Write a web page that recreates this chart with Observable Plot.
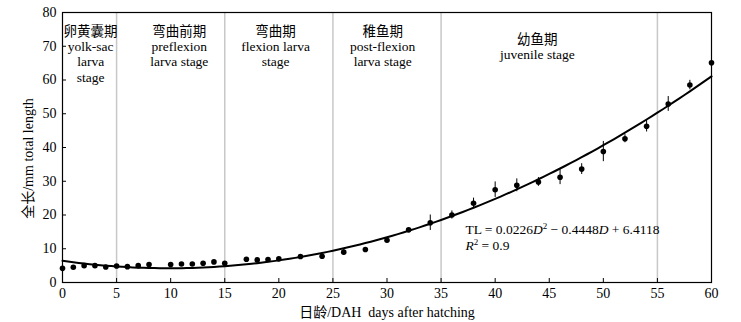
<!DOCTYPE html>
<html><head><meta charset="utf-8">
<script src="https://cdn.jsdelivr.net/npm/d3@7"></script>
<script src="https://cdn.jsdelivr.net/npm/@observablehq/plot@0.6"></script>
<style>
body{margin:0;background:#fff;}
#chart svg{display:block;}
</style>
</head><body><div id="chart"></div>
<script>
// ---- data ----
const days    = [0,1,2,3,4,5,6,7,8,10,11,12,13,14,15,17,18,19,20,22,24,26,28,30,32,34,36,38,40,42,44,46,48,50,52,54,56,58,60];
const lengths = [4.2,4.5,5.0,5.0,4.6,4.9,4.7,5.0,5.3,5.3,5.5,5.5,5.7,6.1,5.7,6.9,6.7,6.8,7.0,7.7,7.8,9.0,9.8,12.5,15.6,17.7,20.0,23.5,27.5,28.8,29.8,31.2,33.6,38.8,42.6,46.3,52.9,58.5,65.1];
const errors  = [0.3,0.3,0.3,0.3,0.3,0.3,0.3,0.3,0.3,0.3,0.3,0.3,0.3,0.3,0.3,0.3,0.3,0.3,0.3,0.3,0.3,1.0,0.4,0.75,0.4,2.3,1.2,1.5,2.3,1.9,1.3,2.2,1.6,3.0,1.2,1.7,2.2,1.4,2.0];
const stageBounds = [5,15,25,35,55];
const stageCenters = [2.6,10.8,19.7,29.6];
const stageLabels = ["卵黄囊期\nyolk-sac\nlarva\nstage","弯曲前期\npreflexion\nlarva stage","弯曲期\nflexion larva\nstage","稚鱼期\npost-flexion\nlarva stage"];
const juvenileCenter = [43.9];
const juvenileLabel = ["幼鱼期\njuvenile stage"];
const coef = [0.0226, -0.4448, 6.4118]; // TL = aD^2 + bD + c
const xTicks = [0,5,10,15,20,25,30,35,40,45,50,55,60];
const yTicks = [0,10,20,30,40,50,60,70,80];
const xLabel = "日龄/DAH\u00a0\u00a0days after hatching";
const yLabel = "全长/mm total length";

const points = days.map((d,i)=>({day:d, tl:lengths[i], err:errors[i]}));
const curveDays = d3.range(0, 60.001, 0.5);
const curve = curveDays.map(d=>({day:d, tl: coef[0]*d*d + coef[1]*d + coef[2]}));
const stages = stageCenters.map((x,i)=>({x, label:stageLabels[i]}));
const juvenile = juvenileCenter.map((x,i)=>({x, label:juvenileLabel[i]}));

const serif = "'Liberation Serif','Times New Roman','Noto Sans CJK SC',serif";

const plot = Plot.plot({
  width: 741, height: 322,
  marginLeft: 62, marginRight: 30, marginTop: 12, marginBottom: 40,
  style: {fontFamily: serif, fontSize: "14px", background: "white", color: "black", overflow: "visible"},
  x: {domain: [0,60]},
  y: {domain: [0,80]},
  marks: [
    Plot.ruleX(stageBounds, {stroke: "#c8c8c8", strokeWidth: 1.5}),
    Plot.frame({stroke: "black", strokeWidth: 1.2}),
    Plot.axisX({ticks: xTicks, tickSize: -4, tickPadding: 10, fontSize: 14, fontFamily: serif, label: xLabel, labelAnchor: "center", labelArrow: "none", labelOffset: 34}),
    Plot.axisY({ticks: yTicks, tickSize: -4, tickPadding: 10, fontSize: 14, fontFamily: serif, label: null}),
    Plot.line(curve, {x: "day", y: "tl", stroke: "black", strokeWidth: 2}),
    Plot.ruleX(points, {x: "day", y1: d=>d.tl-d.err, y2: d=>d.tl+d.err, stroke: "black", strokeWidth: 1}),
    Plot.dot(points, {x: "day", y: "tl", r: 2.8, fill: "black", stroke: "none"}),
    Plot.text(stages, {x: "x", text: "label", frameAnchor: "top", lineAnchor: "top", dy: 13, fontSize: 13.5, fontFamily: serif, lineHeight: 1.12}),
    Plot.text(juvenile, {x: "x", text: "label", frameAnchor: "top", lineAnchor: "top", dy: 21, fontSize: 13.5, fontFamily: serif, lineHeight: 1.12}),
    Plot.text([yLabel], {frameAnchor: "left", textAnchor: "middle", rotate: -90, dx: -34, dy: 11, fontSize: 14, fontFamily: serif})
  ]
});
document.getElementById("chart").appendChild(plot);

// equation annotation, positioned through the plot's scales
const sx = plot.scale("x"), sy = plot.scale("y");
const svg = d3.select(plot);
const eq = svg.append("g").attr("font-family", serif).attr("font-size", 13.5).attr("fill", "black").attr("text-anchor", "start");
const t1 = eq.append("text").attr("x", sx.apply(37.3)).attr("y", sy.apply(15.7)).attr("dy", "0.35em");
t1.append("tspan").text("TL = 0.0226");
t1.append("tspan").attr("font-style", "italic").text("D");
t1.append("tspan").attr("font-size", 9).attr("dy", -5).text("2");
t1.append("tspan").attr("dy", 5).text(" \u2212 0.4448");
t1.append("tspan").attr("font-style", "italic").text("D");
t1.append("tspan").text(" + 6.4118");
const t2 = eq.append("text").attr("x", sx.apply(37.3)).attr("y", sy.apply(11.0)).attr("dy", "0.35em");
t2.append("tspan").attr("font-style", "italic").text("R");
t2.append("tspan").attr("font-size", 9).attr("dy", -5).text("2");
t2.append("tspan").attr("dy", 5).text(" = 0.9");
</script>
</body></html>
